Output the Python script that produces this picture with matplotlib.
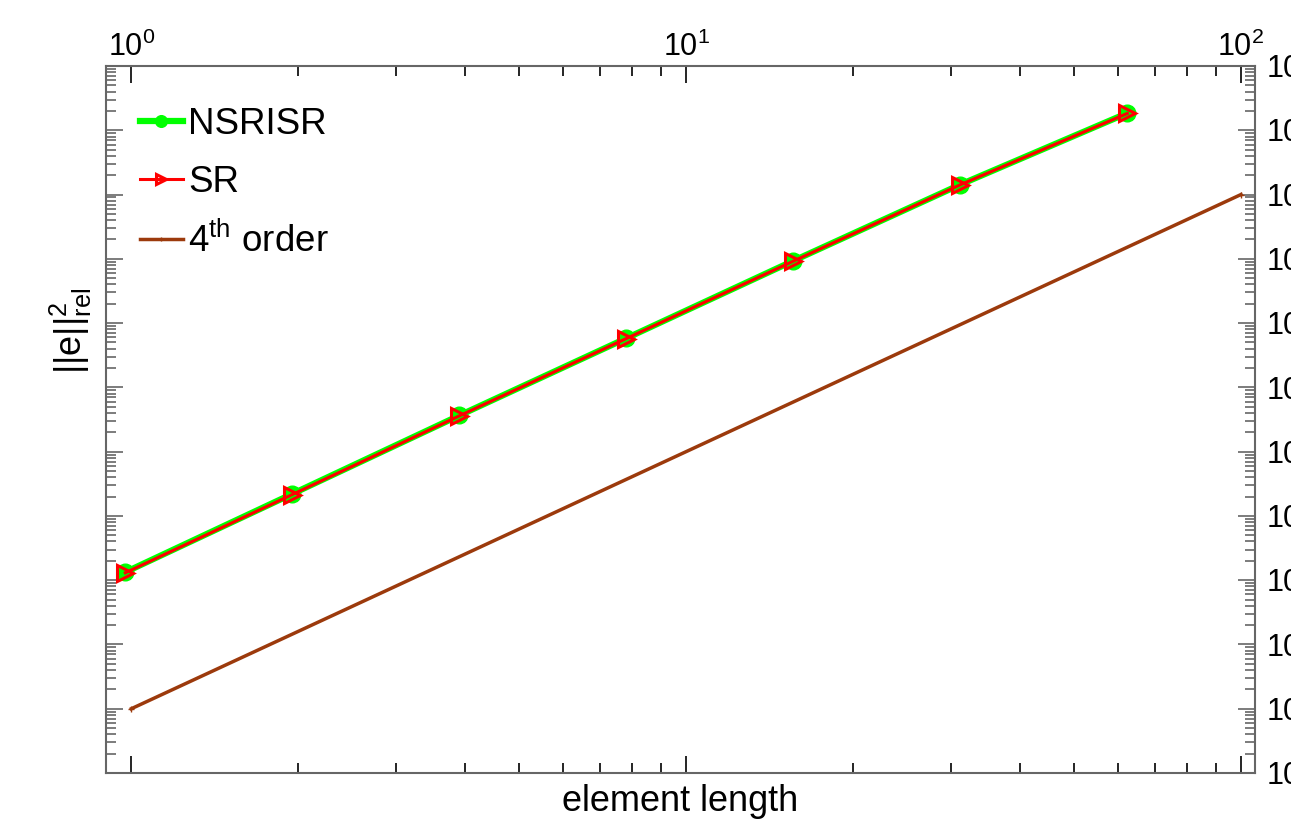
import numpy as np
import matplotlib
matplotlib.use('Agg')
import matplotlib.pyplot as plt
from matplotlib.ticker import LogLocator, NullFormatter

plt.rcParams['font.family'] = ['Liberation Sans', 'DejaVu Sans']
plt.rcParams['mathtext.fontset'] = 'custom'
plt.rcParams['mathtext.rm'] = 'Liberation Sans'
plt.rcParams['mathtext.it'] = 'Liberation Sans'
plt.rcParams['mathtext.bf'] = 'Liberation Sans:bold'

# element lengths and errors
h = [0.975, 1.95, 3.9, 7.8, 15.6, 31.2, 62.4]
err_nsrisr = [1.33e-8, 2.2e-7, 3.65e-6, 5.8e-5, 9.3e-4, 1.43e-2, 1.85e-1]
err_sr = [1.30e-8, 2.15e-7, 3.6e-6, 5.75e-5, 9.2e-4, 1.42e-2, 1.83e-1]
h_ref = [1.0, 100.0]
err_ref = [1e-10, 1e-2]

fig = plt.figure(figsize=(12.91, 8.19), dpi=100)
ax = fig.add_axes([0.0821, 0.0562, 0.8900, 0.8632])

ax.loglog(h, err_nsrisr, color=(0, 1, 0), lw=4.5, marker='o', ms=12,
          mfc=(0, 1, 0), mec=(0, 1, 0), label='NSRISR')
ax.loglog(h, err_sr, color=(1, 0, 0), lw=2.2, marker='>', ms=11,
          mfc='none', mec=(1, 0, 0), mew=2.2, label='SR')
ax.loglog(h_ref, err_ref, color='#9c3a0c', lw=2.5, marker='+', ms=4,
          label=r'4$^{\rm th}$ order')

ax.set_xlim(0.9, 1.06e2)
ax.set_ylim(1e-11, 1e0)

ax.xaxis.set_major_locator(LogLocator(base=10, numticks=10))
ax.xaxis.set_minor_locator(LogLocator(base=10, subs=np.arange(2, 10), numticks=50))
ax.yaxis.set_major_locator(LogLocator(base=10, numticks=20))
ax.yaxis.set_minor_locator(LogLocator(base=10, subs=np.arange(2, 10), numticks=200))
ax.xaxis.set_minor_formatter(NullFormatter())
ax.yaxis.set_minor_formatter(NullFormatter())

ax.tick_params(axis='x', which='both', direction='in', top=True, bottom=True,
               labeltop=True, labelbottom=False, labelsize=22, pad=2, colors='black')
ax.tick_params(axis='y', which='both', direction='in', left=True, right=True,
               labelleft=False, labelright=True, labelsize=22, pad=8,
               color='#666666')
ax.tick_params(which='major', length=12, width=1.2)
ax.tick_params(which='minor', length=7, width=1.2)

for s in ax.spines.values():
    s.set_color('#666666')
    s.set_linewidth(1.5)

ax.set_xlabel('element length', fontsize=26, labelpad=8)
ax.set_ylabel(r'$||e||^2_{rel}$', fontsize=26)
ax.yaxis.set_label_coords(-0.0104, 0.625)

ax.legend(loc='upper left', bbox_to_anchor=(0, 0.99), frameon=False,
          fontsize=26.5, handlelength=1.17, handletextpad=0.14,
          labelspacing=0.62, borderaxespad=0.52, markerscale=0.7)

fig.savefig('out.png', dpi=100)
